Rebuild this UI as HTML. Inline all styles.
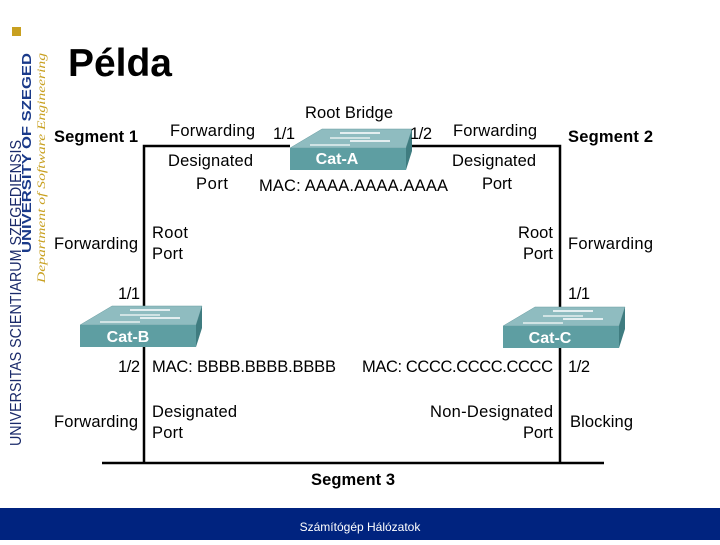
<!DOCTYPE html>
<html><head><meta charset="utf-8">
<style>
body{margin:0;width:720px;height:540px;overflow:hidden;background:#fff;font-family:"Liberation Sans",Arial,sans-serif;}
</style></head><body>
<svg width="720" height="540" viewBox="0 0 720 540" xmlns="http://www.w3.org/2000/svg" font-family="Liberation Sans, Arial, sans-serif">
<defs>
<g id="sw">
<polygon points="0,0 32,-19 122,-19 116,0" fill="#8fbcc0" stroke="#6a9ea2" stroke-width="0.5"/>
<polygon points="116,0 122,-19 122,3 116,22" fill="#3f7c80"/>
<rect x="0" y="0" width="116" height="22" fill="#5e9ea2"/>
<line x1="50" y1="-15" x2="90" y2="-15" stroke="#fff" stroke-width="1.5"/>
<line x1="40" y1="-10" x2="80" y2="-10" stroke="#e6f0f0" stroke-width="1.5"/>
<line x1="60" y1="-7" x2="100" y2="-7" stroke="#fff" stroke-width="1.5"/>
<line x1="20" y1="-3" x2="60" y2="-3" stroke="#e6f0f0" stroke-width="1.5"/>
</g>
</defs>
<rect x="12" y="27" width="9" height="9" fill="#c8a020"/>
<text transform="translate(21,446) rotate(-90)" font-size="15.5" fill="#1a2a6a" textLength="306" lengthAdjust="spacingAndGlyphs">UNIVERSITAS SCIENTIARUM SZEGEDIENSIS</text>
<text transform="translate(31,253) rotate(-90)" font-size="13" font-weight="bold" fill="#1a3a8a" textLength="200" lengthAdjust="spacingAndGlyphs">UNIVERSITY OF SZEGED</text>
<text transform="translate(45,283) rotate(-90)" font-size="12" font-style="italic" fill="#c8a020" font-family="Liberation Serif, serif" textLength="230" lengthAdjust="spacingAndGlyphs">Department of Software Engineering</text>
<text x="68" y="76" font-size="39" font-weight="bold" fill="#000" textLength="104" lengthAdjust="spacingAndGlyphs">Példa</text>
<g stroke="#000" stroke-width="2.5" fill="none">
<polyline points="290,146 144,146 144,463"/>
<polyline points="404,146 560,146 560,463"/>
<line x1="102" y1="463" x2="604" y2="463"/>
</g>
<use href="#sw" x="290" y="148"/>
<use href="#sw" x="80" y="325"/>
<use href="#sw" x="503" y="326"/>
<g font-size="16" font-weight="bold" fill="#fff" text-anchor="middle">
<text x="337" y="164">Cat-A</text>
<text x="128" y="342">Cat-B</text>
<text x="550" y="343">Cat-C</text>
</g>
<g font-size="16.5" fill="#000" lengthAdjust="spacingAndGlyphs">
<text x="305" y="118" textLength="88">Root Bridge</text>
<text x="170" y="136" textLength="85">Forwarding</text>
<text x="273" y="139" textLength="22">1/1</text>
<text x="410" y="139" textLength="22">1/2</text>
<text x="453" y="136" textLength="84">Forwarding</text>
<text x="168" y="166" textLength="85">Designated</text>
<text x="196" y="189" textLength="32">Port</text>
<text x="452" y="166" textLength="84">Designated</text>
<text x="482" y="189" textLength="30">Port</text>
<text x="259" y="191" textLength="189">MAC: AAAA.AAAA.AAAA</text>
<text x="54" y="249" textLength="84">Forwarding</text>
<text x="152" y="238" textLength="36">Root</text>
<text x="152" y="259" textLength="31">Port</text>
<text x="518" y="238" textLength="35">Root</text>
<text x="523" y="259" textLength="30">Port</text>
<text x="568" y="249" textLength="85">Forwarding</text>
<text x="118" y="299" textLength="22">1/1</text>
<text x="568" y="299" textLength="22">1/1</text>
<text x="118" y="372" textLength="22">1/2</text>
<text x="152" y="372" textLength="184">MAC: BBBB.BBBB.BBBB</text>
<text x="362" y="372" textLength="191">MAC: CCCC.CCCC.CCCC</text>
<text x="568" y="372" textLength="22">1/2</text>
<text x="152" y="417" textLength="85">Designated</text>
<text x="152" y="438" textLength="31">Port</text>
<text x="54" y="427" textLength="84">Forwarding</text>
<text x="430" y="417" textLength="123">Non-Designated</text>
<text x="523" y="438" textLength="30">Port</text>
<text x="570" y="427" textLength="63">Blocking</text>
</g>
<g font-size="16.5" font-weight="bold" fill="#000" lengthAdjust="spacingAndGlyphs">
<text x="54" y="142" textLength="84">Segment 1</text>
<text x="568" y="142" textLength="85">Segment 2</text>
<text x="311" y="485" textLength="84">Segment 3</text>
</g>
<rect x="0" y="508" width="720" height="32" fill="#00237f"/>
<text x="360" y="531" font-size="12" fill="#fff" text-anchor="middle">Számítógép Hálózatok</text>
</svg>
</body></html>
